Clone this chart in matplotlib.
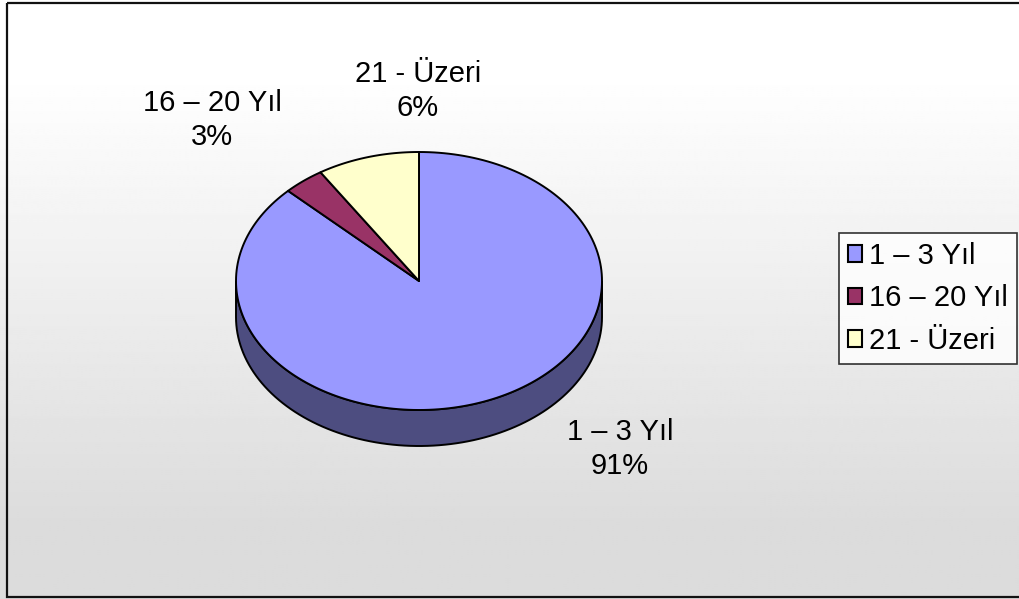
import numpy as np
import matplotlib
matplotlib.use("Agg")
import matplotlib.pyplot as plt
from matplotlib.patches import Polygon, Rectangle, Patch

plt.rcParams['font.family'] = ['Liberation Sans', 'DejaVu Sans']

# data
labels = ['1 – 3 Yıl', '16 – 20 Yıl', '21 - Üzeri']
values = [91, 3, 6]
colors = ['#9999FF', '#993366', '#FFFFCC']

W, H = 1019, 599
fig = plt.figure(figsize=(W / 100, H / 100), dpi=100)
ax = fig.add_axes([0, 0, 1, 1])
ax.set_xlim(0, W)
ax.set_ylim(H, 0)
ax.axis('off')

# background gradient (white top -> light grey bottom)
yy = np.linspace(0, 1, 300)
g = np.clip((yy - 0.12) / 0.75, 0, 1)
shade = 1.0 - g * (1.0 - 0.863)
grad = np.repeat(shade[:, None], 2, axis=1)
ax.imshow(grad, cmap='gray', vmin=0, vmax=1, extent=[0, W, H, 0],
          aspect='auto', zorder=0)
ax.add_patch(Rectangle((7, 3), W + 10, 594, fill=False, edgecolor='#111111',
                       lw=1.6, zorder=10))

# 3d pie geometry
cx, cy, rx, ry, depth = 419, 281, 183, 129, 36
k = 0.62  # excel-like angular distortion of the tilted top face


def warp(a):
    # true angle (deg, math) -> parametric angle on ellipse
    return np.degrees(np.arctan2(k * np.sin(np.radians(a)), np.cos(np.radians(a))))


def pt(phi, dy=0):
    r = np.radians(phi)
    return cx + rx * np.cos(r), cy - ry * np.sin(r) + dy


fracs = np.array(values) / sum(values)
cum = np.concatenate([[0], np.cumsum(fracs)])
starts = 90 - cum[:-1] * 360
ends = 90 - cum[1:] * 360

# convert to parametric angles, continuous clockwise
wedges = []
for s, e in zip(starts, ends):
    ps = warp(s)
    pe = warp(e)
    while pe > ps:
        pe -= 360
    if abs(e - s) >= 359.9:
        pe = ps - 360
    wedges.append((ps, pe))

# side walls (front half only: parametric angle in [-180, 0])
for (ps, pe), c in zip(wedges, colors):
    side = np.array(matplotlib.colors.to_rgb(c)) * 0.5
    for off in (0, -360, 360):
        lo = max(pe + off, -180)
        hi = min(ps + off, 0)
        if hi > lo:
            phis = np.linspace(lo, hi, 100)
            top = [pt(p) for p in phis]
            bot = [pt(p, depth) for p in phis[::-1]]
            ax.add_patch(Polygon(top + bot, closed=True, facecolor=side,
                                 edgecolor='black', lw=1.4, zorder=2))

# top faces
for (ps, pe), c in zip(wedges, colors):
    phis = np.linspace(ps, pe, 200)
    verts = [(cx, cy)] + [pt(p) for p in phis]
    ax.add_patch(Polygon(verts, closed=True, facecolor=c, edgecolor='black',
                         lw=1.4, joinstyle='round', zorder=3))

# data labels
label_pos = [(620, 449), (212, 120), (418, 91)]
for lab, v, (x, y) in zip(labels, values, label_pos):
    ax.text(x, y, f'{lab}\n{v}%', ha='center', va='center', fontsize=21,
            linespacing=1.3, color='black', zorder=5)

# legend
handles = [Patch(facecolor=c, edgecolor='black', lw=1.5) for c in colors]
leg = fig.legend(handles, labels, loc='upper left',
                 bbox_to_anchor=(839 / W, 1 - 233 / H), fontsize=21,
                 frameon=True, fancybox=False, edgecolor='black',
                 handlelength=0.5, handleheight=0.5, handletextpad=0.23,
                 borderpad=0.3, labelspacing=0.5, borderaxespad=0)
leg.get_frame().set_linewidth(1.2)
leg.get_frame().set_facecolor('white')

fig.savefig('out.png', dpi=100)
